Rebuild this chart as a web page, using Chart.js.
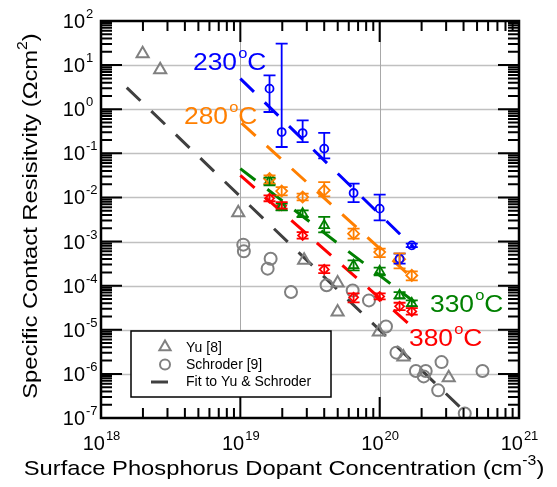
<!DOCTYPE html>
<html>
<head>
<meta charset="utf-8">
<script src="https://cdn.jsdelivr.net/npm/chart.js@4.4.0/dist/chart.umd.min.js"></script>
<style>
  html, body { margin: 0; padding: 0; background: #fff; }
  canvas { display: block; }
</style>
</head>
<body>
<canvas id="chart" width="557" height="487"></canvas>
<script>
// axis decades
const xDecades = [1e18, 1e19, 1e20, 1e21];
const yDecades = [1e-7, 1e-6, 1e-5, 1e-4, 1e-3, 1e-2, 1e-1, 1e0, 1e1, 1e2];

// literature data (gray)
const yuX = [1.99e18, 2.66e18, 9.66e18, 2.87e19, 4.99e19, 4.99e19, 9.86e19, 1.48e20, 3.13e20];
const yuY = [18.2, 7.9, 4.52e-3, 3.75e-4, 1.15e-4, 2.52e-5, 8.87e-6, 2.41e-6, 8.2e-7];
const schX = [1.05e19, 1.06e19, 1.65e19, 1.57e19, 2.31e19, 4.16e19, 6.4e19, 8.38e19, 1.11e20,
              1.32e20, 2.78e20, 1.82e20, 2.14e20, 2.07e20, 2.63e20, 5.47e20, 4.08e20];
const schY = [8.51e-4, 6.0e-4, 4.09e-4, 2.43e-4, 7.16e-5, 1.02e-4, 7.8e-5, 4.64e-5, 1.19e-5,
              3.03e-6, 1.85e-6, 1.16e-6, 1.16e-6, 8.77e-7, 4.23e-7, 1.16e-6, 1.27e-7];
const fitX = [1.53e18, 4.3e20];
const fitY = [3.09, 1.19e-7];

// measured data, shared surface concentrations
const conc = [1.62e19, 1.98e19, 2.8e19, 4.0e19, 6.5e19, 1.0e20, 1.39e20, 1.7e20];

const rho230 = [2.93, 0.304, 0.288, 0.128, 0.0126, 0.00557, 4.09e-4, 8.2e-4];
const hi230  = [5.87, 30.7, 0.56, 0.29, 0.0206, 0.01156, 5.32e-4, 8.96e-4];
const lo230  = [0.865, 0.139, 0.18, 0.077, 0.00787, 0.00303, 3.15e-4, 7.5e-4];

const rho280 = [0.0267, 0.01396, 0.0102, 0.0145, 0.00151, 5.78e-4, 3.95e-4, 1.71e-4];
const hi280  = [0.0317, 0.0172, 0.0122, 0.0223, 0.00196, 6.9e-4, 5.4e-4, 2.11e-4];
const lo280  = [0.0206, 0.01117, 0.00859, 0.0106, 0.00116, 4.45e-4, 2.47e-4, 1.32e-4];

const rho330 = [0.0235, 0.00605, 0.0043, 0.00233, 2.88e-4, 2.11e-4, 6.03e-5, 3.97e-5];
const hi330  = [0.0281, 0.00723, 0.0051, 0.00363, 3.75e-4, 2.56e-4, 7.16e-5, 4.65e-5];
const lo330  = [0.0188, 0.0051, 0.0036, 0.00162, 2.22e-4, 1.71e-4, 5.07e-5, 3.4e-5];

const rho380 = [0.00955, 0.00645, 0.00138, 2.34e-4, 5.43e-5, 5.71e-5, 3.4e-5, 2.61e-5];
const hi380  = [0.0111, 0.00787, 0.00164, 2.88e-4, 6.68e-5, 6.7e-5, 4.1e-5, 3.1e-5];
const lo380  = [0.0082, 0.00557, 0.00116, 1.93e-4, 4.18e-5, 4.9e-5, 2.8e-5, 2.2e-5];

// fits for each anneal temperature (end points)
const fit230X = [1.0e19, 1.79e20], fit230Y = [4.94, 6.9e-4];
const fit280X = [1.02e19, 1.79e20], fit280Y = [0.486, 1.32e-4];
const fit330X = [1.0e19, 1.79e20], fit330Y = [0.045, 4.18e-5];
const fit380X = [1.0e19, 1.70e20], fit380Y = [0.0317, 1.19e-5];

const BLUE = "#0000ff", ORANGE = "#ff7f00", GREEN = "#008000", RED = "#ff0000";
const GRAY = "#808080", DARK = "#404040";
const FONT = "'Liberation Sans', Arial, sans-serif";

const pts = (xs, ys) => xs.map((x, i) => ({ x: x, y: ys[i] }));

function fitLine(xs, ys, color) {
  return {
    data: pts(xs, ys), showLine: true, borderColor: color, borderWidth: 3,
    borderDash: [19, 15], pointRadius: 0, fill: false
  };
}

function measured(ys, lo, hi, color, style, r) {
  return {
    data: pts(conc, ys), showLine: false, pointStyle: style, pointRadius: r,
    borderColor: color, backgroundColor: "rgba(0,0,0,0)", pointBorderWidth: 1.8,
    errLo: lo, errHi: hi
  };
}

// error bars
const errorBars = {
  id: "errorBars",
  afterDatasetsDraw(chart) {
    const ctx = chart.ctx, xs = chart.scales.x, ys = chart.scales.y;
    chart.data.datasets.forEach(ds => {
      if (!ds.errLo) return;
      ctx.save();
      ctx.strokeStyle = ds.borderColor;
      ctx.lineWidth = 1.8;
      ds.data.forEach((p, i) => {
        const px = xs.getPixelForValue(p.x);
        const top = ys.getPixelForValue(ds.errHi[i]);
        const bot = ys.getPixelForValue(ds.errLo[i]);
        ctx.beginPath();
        ctx.moveTo(px, top); ctx.lineTo(px, bot);
        ctx.moveTo(px - 6, top); ctx.lineTo(px + 6, top);
        ctx.moveTo(px - 6, bot); ctx.lineTo(px + 6, bot);
        ctx.stroke();
      });
      ctx.restore();
    });
  }
};

// gray grid under the data
const gridLines = {
  id: "gridLines",
  beforeDatasetsDraw(chart) {
    const ctx = chart.ctx, a = chart.chartArea, xs = chart.scales.x, ys = chart.scales.y;
    ctx.save();
    ctx.strokeStyle = "#c0c0c0";
    ctx.lineWidth = 1.5;
    yDecades.slice(1, -1).forEach(v => {
      const py = Math.round(ys.getPixelForValue(v)) + 0.5;
      ctx.beginPath(); ctx.moveTo(a.left, py); ctx.lineTo(a.right, py); ctx.stroke();
    });
    ctx.strokeStyle = "#a8a8a8";
    ctx.lineWidth = 1;
    xDecades.slice(1, -1).forEach(v => {
      const px = Math.round(xs.getPixelForValue(v)) + 0.5;
      ctx.beginPath(); ctx.moveTo(px, a.top); ctx.lineTo(px, a.bottom); ctx.stroke();
    });
    ctx.restore();
  }
};

function pow10(ctx, exp, x, y, align) {
  ctx.font = "20px " + FONT;
  const wb = ctx.measureText("10").width;
  ctx.font = "13px " + FONT;
  const we = ctx.measureText(exp).width;
  let x0 = align === "center" ? x - (wb + we) / 2 : x - wb;
  ctx.textAlign = "left";
  ctx.textBaseline = "alphabetic";
  ctx.font = "20px " + FONT;
  ctx.fillText("10", x0, y);
  ctx.font = "13px " + FONT;
  ctx.fillText(exp, x0 + wb + 1, y - 10);
}

function tempLabel(ctx, num, color, x, y) {
  ctx.save();
  ctx.fillStyle = color;
  ctx.textAlign = "left";
  ctx.textBaseline = "alphabetic";
  ctx.translate(x, y);
  ctx.scale(1.1, 1);
  ctx.font = "24px " + FONT;
  ctx.fillText(num, 0, 0);
  let w = ctx.measureText(num).width;
  ctx.font = "15px " + FONT;
  ctx.fillText("o", w + 1, -12);
  w += ctx.measureText("o").width + 1;
  ctx.font = "24px " + FONT;
  ctx.fillText("C", w, 0);
  ctx.restore();
}

// title with a superscript, drawn from (0,0) centred, stretched a bit wider
function titleSup(ctx, before, sup, after) {
  ctx.scale(1.13, 1);
  ctx.textAlign = "left";
  ctx.textBaseline = "alphabetic";
  ctx.font = "21px " + FONT;
  const wa = ctx.measureText(before).width;
  const wc = ctx.measureText(after).width;
  ctx.font = "14px " + FONT;
  const ws = ctx.measureText(sup).width;
  const x0 = -(wa + ws + wc) / 2;
  ctx.font = "21px " + FONT;
  ctx.fillText(before, x0, 0);
  ctx.font = "14px " + FONT;
  ctx.fillText(sup, x0 + wa, -10);
  ctx.font = "21px " + FONT;
  ctx.fillText(after, x0 + wa + ws, 0);
}

// frame, ticks, labels, legend
const decorations = {
  id: "decorations",
  afterDraw(chart) {
    const ctx = chart.ctx, a = chart.chartArea, xs = chart.scales.x, ys = chart.scales.y;
    ctx.save();
    ctx.strokeStyle = "#000";
    ctx.fillStyle = "#000";
    ctx.lineWidth = 2;
    // ticks
    for (let d = 18; d < 21; d++) {
      for (let m = 1; m <= 9; m++) {
        const v = m * Math.pow(10, d);
        const px = xs.getPixelForValue(v);
        const len = m === 1 ? 21 : 10;
        ctx.beginPath();
        ctx.moveTo(px, a.bottom); ctx.lineTo(px, a.bottom - len);
        ctx.moveTo(px, a.top); ctx.lineTo(px, a.top + len);
        ctx.stroke();
      }
    }
    for (let d = -7; d < 2; d++) {
      for (let m = 1; m <= 9; m++) {
        const v = m * Math.pow(10, d);
        const py = ys.getPixelForValue(v);
        const len = m === 1 ? 21 : 11;
        ctx.beginPath();
        ctx.moveTo(a.left, py); ctx.lineTo(a.left + len, py);
        ctx.moveTo(a.right, py); ctx.lineTo(a.right - len, py);
        ctx.stroke();
      }
    }
    ctx.lineWidth = 2.5;
    ctx.strokeRect(a.left, a.top, a.right - a.left, a.bottom - a.top);

    // tick labels
    xDecades.forEach(v => pow10(ctx, String(Math.round(Math.log10(v))), xs.getPixelForValue(v), 450, "center"));
    yDecades.forEach(v => pow10(ctx, String(Math.round(Math.log10(v))), 85, ys.getPixelForValue(v) + 7, "right"));

    // axis titles
    ctx.save();
    ctx.translate(284, 475);
    titleSup(ctx, "Surface Phosphorus Dopant Concentration (cm", "-3", ")");
    ctx.restore();

    ctx.save();
    ctx.translate(37, 216);
    ctx.rotate(-Math.PI / 2);
    titleSup(ctx, "Specific Contact Resisitvity (\u03a9cm", "2", ")");
    ctx.restore();

    // temperature labels
    tempLabel(ctx, "230", BLUE, 193, 70);
    tempLabel(ctx, "280", ORANGE, 184, 124);
    tempLabel(ctx, "330", GREEN, 430, 312);
    tempLabel(ctx, "380", RED, 409, 346);

    // legend
    ctx.fillStyle = "#fff";
    ctx.fillRect(131, 331, 200, 66);
    ctx.strokeStyle = "#000";
    ctx.lineWidth = 1.5;
    ctx.strokeRect(131, 331, 200, 66);
    ctx.strokeStyle = GRAY;
    ctx.lineWidth = 2;
    const r = 6.5;
    ctx.beginPath();
    ctx.moveTo(165, 347 - r);
    ctx.lineTo(165 + r * 0.866, 347 + r * 0.5);
    ctx.lineTo(165 - r * 0.866, 347 + r * 0.5);
    ctx.closePath();
    ctx.stroke();
    ctx.beginPath();
    ctx.arc(165, 364.5, 5, 0, Math.PI * 2);
    ctx.stroke();
    ctx.strokeStyle = DARK;
    ctx.lineWidth = 3;
    ctx.beginPath();
    ctx.moveTo(151, 382); ctx.lineTo(168, 382);
    ctx.stroke();
    ctx.fillStyle = "#000";
    ctx.font = "14px " + FONT;
    ctx.textBaseline = "middle";
    ctx.fillText("Yu [8]", 186, 348);
    ctx.fillText("Schroder [9]", 186, 365);
    ctx.fillText("Fit to Yu & Schroder", 186, 382);
    ctx.restore();
  }
};

const ctx = document.getElementById("chart").getContext("2d");
new Chart(ctx, {
  type: "scatter",
  data: {
    datasets: [
      measured(rho230, lo230, hi230, BLUE, "circle", 4),
      measured(rho280, lo280, hi280, ORANGE, "rectRot", 5.5),
      measured(rho330, lo330, hi330, GREEN, "triangle", 5.5),
      measured(rho380, lo380, hi380, RED, "rectRot", 4.5),
      fitLine(fit230X, fit230Y, BLUE),
      fitLine(fit280X, fit280Y, ORANGE),
      fitLine(fit330X, fit330Y, GREEN),
      fitLine(fit380X, fit380Y, RED),
      {
        data: pts(yuX, yuY), pointStyle: "triangle", pointRadius: 7,
        borderColor: GRAY, backgroundColor: "rgba(0,0,0,0)", pointBorderWidth: 2
      },
      {
        data: pts(schX, schY), pointStyle: "circle", pointRadius: 6,
        borderColor: GRAY, backgroundColor: "rgba(0,0,0,0)", pointBorderWidth: 2
      },
      fitLine(fitX, fitY, DARK)
    ]
  },
  options: {
    responsive: false,
    animation: false,
    layout: { padding: { left: 101, right: 38, top: 21, bottom: 69 } },
    scales: {
      x: { type: "logarithmic", min: 1e18, max: 1e21, display: false },
      y: { type: "logarithmic", min: 1e-7, max: 1e2, display: false }
    },
    plugins: {
      legend: { display: false },
      tooltip: { enabled: false }
    }
  },
  plugins: [gridLines, errorBars, decorations]
});
</script>
</body>
</html>
